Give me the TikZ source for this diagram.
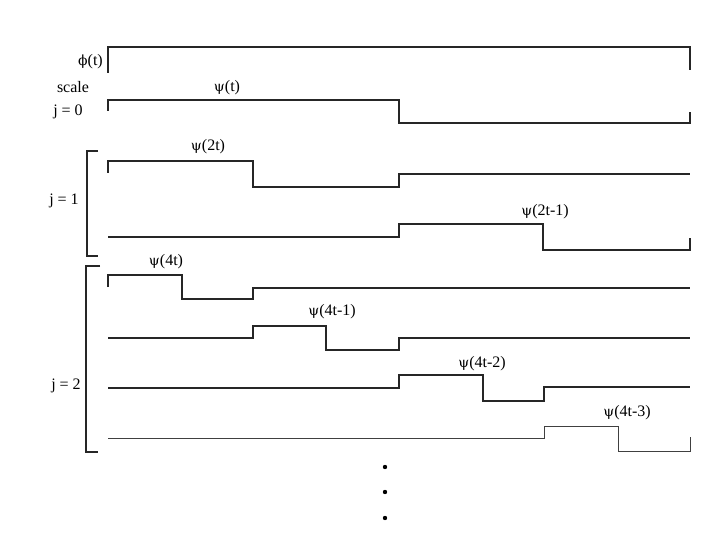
\documentclass[tikz,border=0pt]{standalone}
\usepackage{fontspec}
\setmainfont{Liberation Serif}
\newfontfamily\grkfont{DejaVu Serif}
\newcommand{\psig}{{\grkfont\fontsize{14}{16}\selectfont ψ}}
\newcommand{\phig}{{\grkfont\fontsize{14}{16}\selectfont ϕ}}
\usepackage{tikz}

\begin{document}
\begin{tikzpicture}[
    x=1pt, y=-1pt,
    wave/.style={line width=1.1pt, black!85, line join=miter},
    thinwave/.style={line width=0.8pt, black!75},
    brace/.style={line width=1.1pt, black!85},
    lbl/.style={font=\fontsize{16}{18}\selectfont, inner sep=0pt},
    dotmark/.style={circle, fill=black, inner sep=0pt, minimum size=4.4pt},
  ]
    \useasboundingbox (0,0) rectangle (720,540);

    % Scaling function
    \draw[wave] (108,73) -- (108,47) -- (690,47) -- (690,70);
    \node[lbl, anchor=east] (phi) at (103,62) {\phig(t)};
    \node[lbl] (scale) at (73,87) {scale};
    \node[lbl] (j0) at (68,112) {j = 0};

    % j = 0
    \draw[wave] (108,111) -- (108,100) -- (399,100) -- (399,123) -- (690,123) -- (690,112);
    \node[lbl] (psi) at (227,88) {\psig(t)};

    % j = 1
    \draw[wave] (108,173) -- (108,161) -- (253,161) -- (253,187) -- (399,187) -- (399,174) -- (690,174);
    \draw[wave] (108,237) -- (399,237) -- (399,224) -- (543,224) -- (543,250) -- (690,250) -- (690,238);
    \node[lbl] (psi2a) at (208,147) {\psig(2t)};
    \node[lbl] (psi2b) at (545,212) {\psig(2t-1)};
    \draw[brace] (98,151) -- (87,151) -- (87,256) -- (98,256);
    \node[lbl] (j1) at (64,201) {j = 1};

    % j = 2
    \draw[wave] (108,287) -- (108,275) -- (182,275) -- (182,299) -- (253,299) -- (253,288) -- (690,288);
    \draw[wave] (108,338) -- (253,338) -- (253,326) -- (326,326) -- (326,350) -- (399,350) -- (399,338) -- (690,338);
    \draw[wave] (108,388) -- (399,388) -- (399,375) -- (483,375) -- (483,401) -- (544,401) -- (544,387) -- (690,387);
    \draw[thinwave] (108,438) -- (544,438) -- (544,426) -- (618,426) -- (618,451) -- (690,451) -- (690,437);
    \node[lbl] (psi4a) at (166,262) {\psig(4t)};
    \node[lbl] (psi4b) at (332,312) {\psig(4t-1)};
    \node[lbl] (psi4c) at (482,364) {\psig(4t-2)};
    \node[lbl] (psi4d) at (627,413) {\psig(4t-3)};
    \draw[brace] (100,266) -- (86,266) -- (86,452) -- (98,452);
    \node[lbl] (j2) at (66,386) {j = 2};

    % continuation dots
    \foreach \y/\n in {467/1, 492/2, 518/3}
      \node[dotmark] (dot\n) at (385,\y) {};
\end{tikzpicture}
\end{document}
